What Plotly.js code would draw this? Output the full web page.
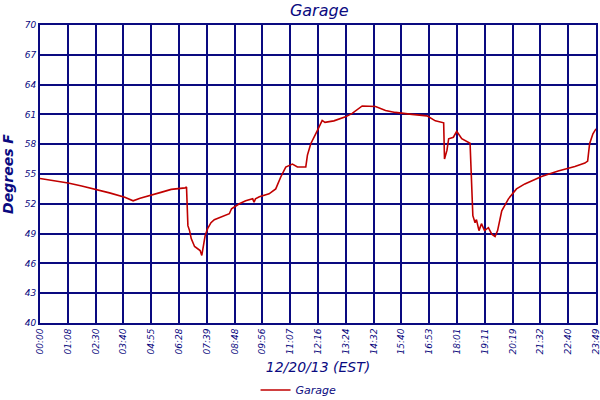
<!DOCTYPE html>
<html>
<head>
<meta charset="utf-8">
<script src="https://cdn.plot.ly/plotly-3.0.1.min.js"></script>
<style>html,body{margin:0;padding:0;background:#fff}#chart{width:600px;height:400px}</style>
</head>
<body>
<div id="chart"></div>
<script>
// sample position (10 samples per labelled tick interval)
const sampleIdx = [0,5,10.1,15,20.3,25,30.5,33.5,36,40,43.5,47.2,50,52.2,52.7,52.9,53.2,53.8,54.4,55.6,56.7,57.6,58.2,58.6,59.4,60.3,61.5,62.7,65.1,68.1,68.9,70,71.7,74,76.5,77,77.5,78.9,82.4,84.8,86.6,88.4,90.8,92.6,95.6,96.2,97.4,99.8,101.5,102.5,105.7,109.9,112.3,115.9,120.7,124.3,127.8,133.8,139.2,142.2,145.2,145.5,146.4,147,148.7,149.9,151.7,154.7,155.3,155.7,156.5,157,157.9,158.8,159.9,161.3,162.5,163.7,164.6,166.1,168.5,171.4,174.4,180.4,186.4,192.4,196,197,197.7,198.9,200];
// temperature, degrees F
const garageTemp = [54.55,54.35,54.1,53.8,53.45,53.1,52.65,52.3,52.55,52.9,53.15,53.45,53.5,53.6,53.7,52.1,49.8,49.3,48.5,47.7,47.5,47.3,46.8,47.4,48.8,49.5,50.1,50.4,50.65,51.0,51.5,51.7,52.0,52.3,52.5,52.15,52.5,52.7,53.0,53.5,54.7,55.7,56.0,55.7,55.7,56.9,58.05,59.4,60.4,60.2,60.35,60.75,61.1,61.85,61.8,61.4,61.2,61.0,60.85,60.35,60.15,56.5,57.4,58.55,58.7,59.3,58.55,58.1,52.65,50.8,50.1,50.4,49.3,50.0,49.3,49.6,48.95,48.7,49.3,51.3,52.5,53.5,54.0,54.75,55.3,55.75,56.1,56.3,58.05,59.05,59.55];
const tickPos = [0,10,20,30,40,50,60,70,80,90,100,110,120,130,140,150,160,170,180,190,200];
const tickLabels = ["00:00","01:08","02:30","03:40","04:55","06:28","07:39","08:48","09:56","11:07","12:16","13:24","14:32","15:40","16:53","18:01","19:11","20:19","21:32","22:40","23:49"];
const yTicks = [40,43,46,49,52,55,58,61,64,67,70];

const navy = '#0a0a80';
const fontFam = 'DejaVu Sans, Verdana, sans-serif';

Plotly.newPlot('chart', [{
  x: sampleIdx, y: garageTemp, type: 'scatter', mode: 'lines', name: 'Garage',
  line: {color: '#c00000', width: 1.6}
}], {
  width: 600, height: 400,
  margin: {l: 40, r: 4, t: 25, b: 77},
  paper_bgcolor: '#fff', plot_bgcolor: '#fff',
  title: {text: 'Garage', x: 0.532, xanchor: 'center', y: 0.975, yanchor: 'middle',
          font: {family: fontFam, size: 16, color: navy, style: 'italic'}},
  xaxis: {
    range: [0, 200], tickmode: 'array', tickvals: tickPos, ticktext: tickLabels,
    tickangle: -90, showgrid: true, gridcolor: navy, gridwidth: 2, automargin: false,
    showline: true, linecolor: navy, linewidth: 2, mirror: true, zeroline: false,
    ticks: '', ticklen: 0, ticklabeloverflow: 'allow',
    tickfont: {family: fontFam, size: 9, color: navy, style: 'italic'},
    title: {text: '12/20/13 (EST)', standoff: 9,
            font: {family: fontFam, size: 14, color: navy, style: 'italic'}}
  },
  yaxis: {
    range: [40, 70], tickmode: 'array', tickvals: yTicks, automargin: false,
    showgrid: true, gridcolor: navy, gridwidth: 2,
    showline: true, linecolor: navy, linewidth: 2, mirror: true, zeroline: false,
    ticks: '', ticklen: 0,
    tickfont: {family: fontFam, size: 9, color: navy, style: 'italic'},
    title: {text: 'Degrees F', standoff: 10,
            font: {family: fontFam, size: 14, color: navy, style: 'italic', weight: 'bold'}}
  },
  showlegend: true,
  legend: {orientation: 'h', x: 0.465, xanchor: 'center', yref: 'container', y: 0.025, yanchor: 'middle',
           font: {family: fontFam, size: 11, color: navy, style: 'italic'}}
}, {displayModeBar: false, staticPlot: true});
</script>
</body>
</html>
